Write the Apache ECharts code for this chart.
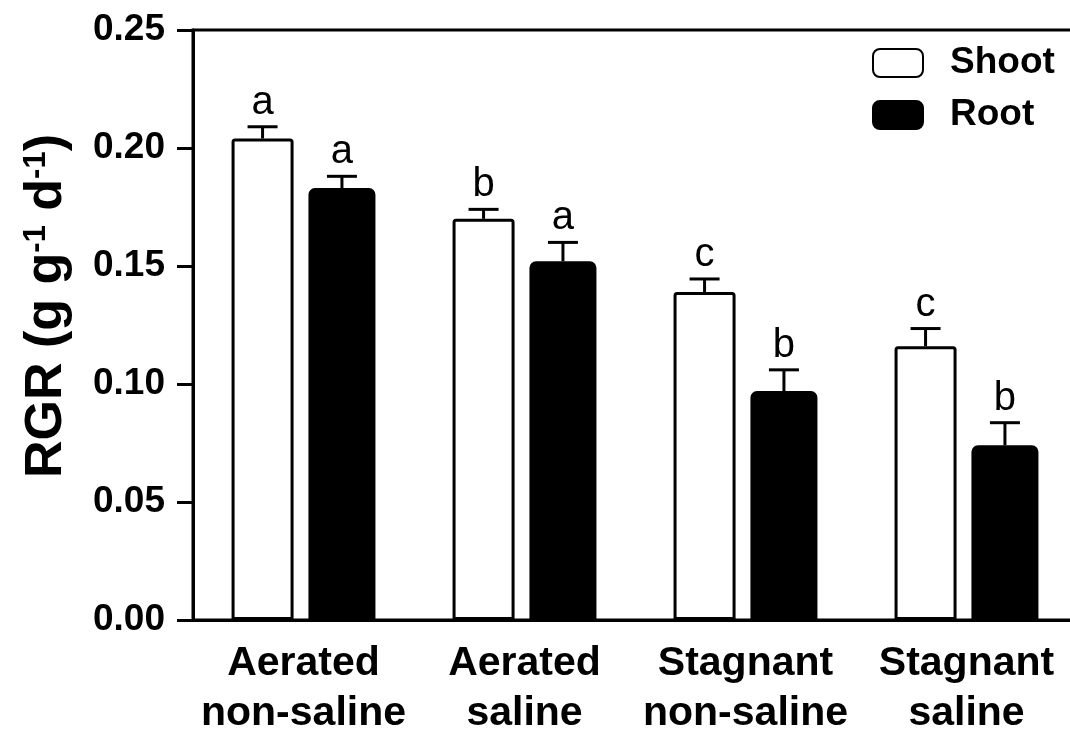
<!DOCTYPE html>
<html>
<head>
<meta charset="utf-8">
<script src="https://cdn.jsdelivr.net/npm/echarts@6/dist/echarts.min.js"></script>
<style>
  html, body { margin: 0; padding: 0; background: #fff; }
  #chart { width: 1070px; height: 729px; }
</style>
</head>
<body>
<div id="chart"></div>
<script>
// 数据
var categories = ['Aerated\nnon-saline', 'Aerated\nsaline', 'Stagnant\nnon-saline', 'Stagnant\nsaline'];
var shootMean = [0.204, 0.170, 0.139, 0.116];
var shootErr = [0.005, 0.004, 0.0055, 0.0075];
var shootLetters = ['a', 'b', 'c', 'c'];
var rootMean = [0.183, 0.152, 0.097, 0.074];
var rootErr = [0.005, 0.008, 0.009, 0.0096];
var rootLetters = ['a', 'a', 'b', 'b'];
var yTicks = [0, 0.05, 0.10, 0.15, 0.20, 0.25];

var FONT = 'Liberation Sans, Arial, sans-serif';
var barWidths = [62, 67];
var barGap = 0.24;

// same offsets as echarts bar layout
var widthSum = barWidths[0] * (1 + barGap) + barWidths[1];
var offsets = [
    -widthSum / 2 + barWidths[0] / 2,
    -widthSum / 2 + barWidths[0] * (1 + barGap) + barWidths[1] / 2
];

function errData(mean, err, letters) {
    return mean.map(function (m, i) {
        return [i, m, m + err[i], letters[i]];
    });
}

function errSeries(name, data, offset) {
    return {
        name: name + ' err',
        type: 'custom',
        z: 5,
        data: data,
        renderItem: function (params, api) {
            var cat = api.value(0);
            var base = api.coord([cat, api.value(1)]);
            var top = api.coord([cat, api.value(2)]);
            var x = base[0] + offset;
            var letter = data[params.dataIndex][3];
            return {
                type: 'group',
                children: [
                    { type: 'line', shape: { x1: x, y1: base[1], x2: x, y2: top[1] }, style: { stroke: '#000', lineWidth: 3 } },
                    { type: 'line', shape: { x1: x - 15, y1: top[1], x2: x + 15, y2: top[1] }, style: { stroke: '#000', lineWidth: 3 } },
                    {
                        type: 'text', x: x, y: top[1] - 4,
                        style: { text: letter, textAlign: 'center', textVerticalAlign: 'bottom', font: '40px ' + FONT, fill: '#000' }
                    }
                ]
            };
        }
    };
}

var chart = echarts.init(document.getElementById('chart'));

var option = {
    backgroundColor: '#fff',
    animation: false,
    grid: {
        left: 193,
        top: 30,
        width: 884,
        height: 590,
        outerBoundsMode: 'none',
        containLabel: false,
        show: true,
        borderColor: '#000',
        borderWidth: 3
    },
    legend: {
        orient: 'vertical',
        left: 867,
        top: 38,
        itemWidth: 50,
        itemHeight: 28,
        itemGap: 12,
        data: ['Shoot', 'Root'],
        textStyle: {
            fontFamily: FONT,
            fontWeight: 'bold',
            fontSize: 37,
            color: '#000',
            lineHeight: 40,
            padding: [0, 0, 0, 22]
        }
    },
    xAxis: {
        type: 'category',
        data: categories,
        axisLine: { lineStyle: { color: '#000', width: 3 } },
        axisTick: { alignWithLabel: true, length: 12, lineStyle: { color: '#000', width: 3 } },
        axisLabel: {
            interval: 0,
            margin: 19,
            color: '#000',
            fontFamily: FONT,
            fontWeight: 'bold',
            fontSize: 41,
            lineHeight: 50
        }
    },
    yAxis: {
        type: 'value',
        min: yTicks[0],
        max: yTicks[yTicks.length - 1],
        interval: 0.05,
        name: '{m|RGR (g g}{s|-1}{m| d}{s|-1}{m|)}',
        nameLocation: 'middle',
        nameGap: 120,
        nameTextStyle: {
            padding: [0, 0, 0, 38],
            rich: {
                m: { fontFamily: FONT, fontWeight: 'bold', fontSize: 52, color: '#000', verticalAlign: 'bottom' },
                s: { fontFamily: FONT, fontWeight: 'bold', fontSize: 31, color: '#000', verticalAlign: 'top' }
            }
        },
        axisLine: { show: true, lineStyle: { color: '#000', width: 3 } },
        axisTick: { show: true, length: 16, lineStyle: { color: '#000', width: 3 } },
        splitLine: { show: false },
        axisLabel: {
            margin: 28,
            color: '#000',
            fontFamily: FONT,
            fontWeight: 'bold',
            fontSize: 37,
            formatter: function (v) { return v.toFixed(2); }
        }
    },
    series: [
        {
            name: 'Shoot',
            type: 'bar',
            data: shootMean,
            barWidth: barWidths[0],
            barGap: (barGap * 100) + '%',
            itemStyle: { color: '#fff', borderColor: '#000', borderWidth: 3, borderRadius: [2, 2, 0, 0] }
        },
        {
            name: 'Root',
            type: 'bar',
            data: rootMean,
            barWidth: barWidths[1],
            barGap: (barGap * 100) + '%',
            itemStyle: { color: '#000', borderColor: '#000', borderWidth: 3, borderRadius: [5, 5, 0, 0] }
        },
        errSeries('Shoot', errData(shootMean, shootErr, shootLetters), offsets[0]),
        errSeries('Root', errData(rootMean, rootErr, rootLetters), offsets[1])
    ]
};

chart.setOption(option);
</script>
</body>
</html>
